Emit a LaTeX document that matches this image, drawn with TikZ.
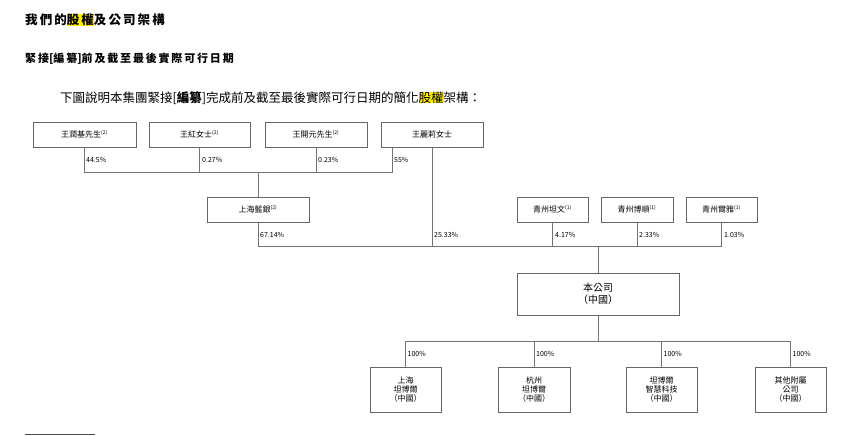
\documentclass[tikz,border=0pt]{standalone}
\usepackage{fontspec}
\setmainfont{Noto Sans CJK TC}
\newfontfamily\cjk{Noto Sans CJK TC}
\usetikzlibrary{positioning}
\tikzset{
  box/.style={draw=black!60,line width=.8pt,inner sep=0pt,font=\fontsize{8}{9}\selectfont,align=center},
  pct/.style={font=\fontsize{7}{8}\selectfont,anchor=west,inner sep=2pt},
  link/.style={draw=black!55,line width=.8pt},
}
\newcommand{\fn}[1]{\textsuperscript{\fontsize{5}{5}\selectfont(#1)}}
\begin{document}
\begin{tikzpicture}[x=1pt,y=-1pt]
\useasboundingbox (0,0) rectangle (854,436);
% headings
\node[anchor=west,font=\fontsize{12.5}{14}\selectfont\bfseries,inner sep=0] (title) at (25,20) {我\,們\,的\setlength{\fboxsep}{0pt}\colorbox{yellow}{股\,權}及\,公\,司\,架\,構};
\node[anchor=west,font=\fontsize{11}{13}\selectfont\bfseries,inner sep=0] (sub) at (25,59) {緊\,接[編\,纂]前\,及\,截\,至\,最\,後\,實\,際\,可\,行\,日\,期};
\node[anchor=west,font=\fontsize{12.5}{14}\selectfont,inner sep=0] (intro) at (60,98) {下圖說明本集團緊接[\textbf{編纂}]完成前及截至最後實際可行日期的簡化\setlength{\fboxsep}{0pt}\colorbox{yellow}{股權}架構：};
% top shareholders
\node[box,minimum width=103,minimum height=25] (wrj) at (84.5,134.5) {王潤基先生\fn{2}};
\node[box,minimum width=101,minimum height=25] (wh) at (199.5,134.5) {王紅女士\fn{2}};
\node[box,minimum width=102,minimum height=25] (wky) at (316,134.5) {王開元先生\fn{2}};
\node[box,minimum width=102,minimum height=25] (wll) at (432,134.5) {王麗莉女士};
\node[box,minimum width=102,minimum height=25] (shly) at (258,209.5) {上海藍銀\fn{2}};
\node[box,minimum width=71,minimum height=25] (qztw) at (552.5,209.5) {青州坦文\fn{1}};
\node[box,minimum width=72,minimum height=25] (qzbs) at (637,209.5) {青州博順\fn{1}};
\node[box,minimum width=71,minimum height=25] (qzey) at (721.5,209.5) {青州爾雅\fn{1}};
\node[box,minimum width=162,minimum height=42,font=\fontsize{10}{12}\selectfont] (co) at (598,294) {本公司\\（中國）};
% subsidiaries
\node[box,minimum width=71,minimum height=45] (sh) at (405.5,389.5) {上海\\坦博爾\\（中國）};
\node[box,minimum width=72,minimum height=45] (hz) at (534,389.5) {杭州\\坦博爾\\（中國）};
\node[box,minimum width=71,minimum height=45] (zh) at (661.5,389.5) {坦博爾\\智慧科技\\（中國）};
\node[box,minimum width=71,minimum height=45] (qt) at (790.5,389.5) {其他附屬\\公司\\（中國）};
% junctions
\coordinate (j1) at (258,172);
\coordinate (j2) at (598,246);
\coordinate (j3) at (598,341);
% connectors, first level
\draw[link] (wrj.south -| 84,0) -- (84,172) -- (392,172) -- (wll.south -| 392,0);
\draw[link] (wh.south) -- (wh.south |- j1);
\draw[link] (wky.south) -- (wky.south |- j1);
\draw[link] (j1) -- (shly.north);
\node[pct] (p1) at (84,160) {44.5\%};
\node[pct] (p2) at (200,160) {0.27\%};
\node[pct] (p3) at (316,160) {0.23\%};
\node[pct] (p4) at (392,160) {55\%};
% second level
\draw[link] (shly.south) -- (shly.south |- j2) -- (qzey.south |- j2) -- (qzey.south);
\draw[link] (wll.south) -- (wll.south |- j2);
\draw[link] (qztw.south) -- (qztw.south |- j2);
\draw[link] (qzbs.south) -- (qzbs.south |- j2);
\draw[link] (j2) -- (co.north);
\node[pct] (p5) at (258,235) {67.14\%};
\node[pct] (p6) at (432,235) {25.33\%};
\node[pct] (p7) at (553,235) {4.17\%};
\node[pct] (p8) at (637,235) {2.33\%};
\node[pct] (p9) at (722,235) {1.03\%};
% subsidiaries
\draw[link] (co.south) -- (j3);
\draw[link] (sh.north) -- (sh.north |- j3) -- (qt.north |- j3) -- (qt.north);
\draw[link] (hz.north) -- (hz.north |- j3);
\draw[link] (zh.north) -- (zh.north |- j3);
\foreach \n in {sh,hz,zh,qt}
  \node[pct] at ([yshift=13]\n.north) {100\%};
% footnote rule
\draw[black!70,line width=.6pt] (25,434) -- (95,434);
\end{tikzpicture}
\end{document}
